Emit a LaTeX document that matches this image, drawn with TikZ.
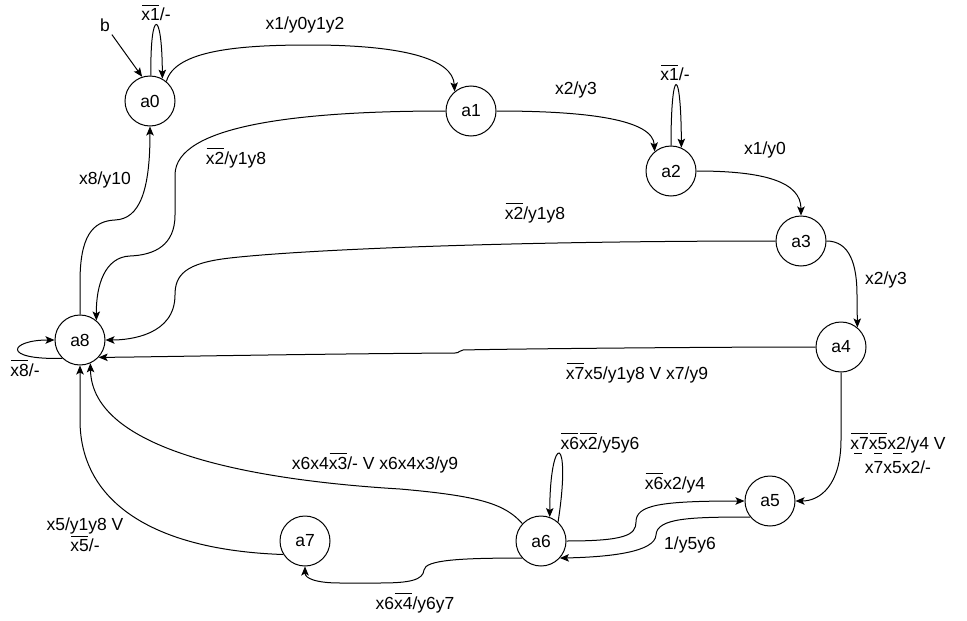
\documentclass[tikz,border=0pt]{standalone}
\usepackage{fontspec}
\setmainfont{Liberation Sans}
\usetikzlibrary{arrows.meta}
\newcommand\ovl[1]{\begingroup\setbox0=\hbox{#1}\dimen0=\wd0\dimen2=\ht0\hbox{\rlap{\kern0.7pt\vrule height\dimexpr\dimen2+4pt\relax depth\dimexpr-\dimen2-3pt\relax width\dimexpr\dimen0-1.4pt\relax}\box0}\endgroup}
\begin{document}
\begin{tikzpicture}[x=1pt,y=-1pt,
  state/.style={draw, circle, minimum size=50pt, inner sep=0pt, line width=1pt, font=\fontsize{17.5}{21}\selectfont},
  lbl/.style={inner sep=0pt, align=center, font=\fontsize{17.5}{21}\selectfont},
  edge/.style={line width=1pt, -{Stealth[length=9pt,width=7.5pt,inset=2pt]}},
  barline/.style={line width=1pt}]
\useasboundingbox (0,0) rectangle (967,621);

% states
\node[state] (a0) at (150,101) {a0};
\node[state] (a1) at (471,111) {a1};
\node[state] (a2) at (671,171) {a2};
\node[state] (a3) at (801,241) {a3};
\node[state] (a4) at (841,347) {a4};
\node[state] (a5) at (770,501) {a5};
\node[state] (a6) at (541,541) {a6};
\node[state] (a7) at (305,541) {a7};
\node[state] (a8) at (80,340) {a8};

% labels
\node[lbl, inner sep=3pt] (b) at (105,25) {b};
\node[lbl] (l00) at (156,13) {\ovl{x1}/-};
\node[lbl] (l01) at (305,25) {x1/y0y1y2};
\node[lbl] (l18) at (236,158) {\ovl{x2}/y1y8};
\node[lbl] (l80) at (105,180) {x8/y10};
\node[lbl] (l12) at (576,90) {x2/y3};
\node[lbl] (l22) at (675,73) {\ovl{x1}/-};
\node[lbl] (l23) at (765,150) {x1/y0};
\node[lbl] (l34) at (886,280) {x2/y3};
\node[lbl] (l38) at (535,213) {\ovl{x2}/y1y8};
\node[lbl] (l48) at (637,373) {\ovl{x7}x5/y1y8 V x7/y9};
\node[lbl] (l45a) at (898,443) {\ovl{x7}\ovl{x5}x2/y4 V};
\node[lbl] (l45b) at (898,467) {x7x5x2/-};
\node[lbl] (l56) at (690,545) {1/y5y6};
\node[lbl] (l65) at (675,483) {\ovl{x6}x2/y4};
\node[lbl] (l66) at (600,443) {\ovl{x6}\ovl{x2}/y5y6};
\node[lbl] (l68) at (375,463) {x6x4\ovl{x3}/- V x6x4x3/y9};
\node[lbl] (l78) at (85,535) {x5/y1y8 V\\\ovl{x5}/-};
\node[lbl] (l67) at (415,603) {x6\ovl{x4}/y6y7};
\node[lbl] (l88) at (25,368) {\ovl{x8}/-};

% bars between the two lines of the a4->a5 label
\draw[barline] (854,453.5) -- (862,453.5);
\draw[barline] (874,453.5) -- (882,453.5);
\draw[barline] (893,453.5) -- (902,453.5);

% edges
\draw[edge] (b) -- (a0.108);
\draw[edge] (a0.88) .. controls (150,8) and (162,8) .. (a0.61);
\draw[edge] (a0.50) .. controls (175,50) and (240,45) .. (310,45)
  .. controls (400,45) and (453,58) .. (a1.130);
\draw[edge] (a1.west) .. controls (300,111) and (175,125) .. (175,175) -- (175,215)
  .. controls (175,245) and (155,255) .. (130,256)
  .. controls (105,257) and (96,285) .. (a8.50);
\draw[edge] (a8.north) -- (80,282) .. controls (80,237) and (92,221) .. (115,220)
  .. controls (140,219) and (150,190) .. (a0.south);
\draw[edge] (a1.east) .. controls (590,111) and (653,120) .. (a2.130);
\draw[edge] (a2.90) .. controls (671,65) and (681,65) .. (a2.66);
\draw[edge] (a2.east) .. controls (765,171) and (801,182) .. (a3.north);
\draw[edge] (a3.east) .. controls (850,241) and (857,265) .. (857,295) -- (a4.50);
\draw[edge] (a3.west) .. controls (500,241) and (300,250) .. (230,258)
  .. controls (185,263) and (175,275) .. (175,295)
  .. controls (175,335) and (130,340) .. (a8.east);
\draw[edge] (a4.west) .. controls (700,347) and (500,349) .. (463,350)
  .. controls (459,350) and (460,353) .. (455,353)
  .. controls (300,354) and (150,357) .. (a8.-43);
\draw[edge] (a4.south) -- (841,440) .. controls (841,485) and (820,501) .. (a5.east);
\draw[edge] (a5.219) .. controls (690,517) and (657,518) .. (656,535)
  .. controls (655,552) and (610,557) .. (a6.-42);
\draw[edge] (a6.east) .. controls (625,541) and (636,535) .. (636,522)
  .. controls (636,505) and (660,501) .. (a5.west);
\draw[edge] (a6.48) .. controls (572,432) and (550,432) .. (a6.70);
\draw[edge] (a6.137) .. controls (505,504) and (480,496) .. (400,489)
  .. controls (250,480) and (92,450) .. (a8.-66);
\draw[edge] (a7.212) .. controls (150,550) and (80,500) .. (80,420) -- (a8.south);
\draw[edge] (a6.222) .. controls (460,558) and (425,560) .. (424,570)
  .. controls (423,580) and (410,583) .. (380,583) -- (340,583)
  .. controls (315,583) and (305,578) .. (a7.south);
\draw[edge] (a8.226) .. controls (0,360) and (10,340) .. (a8.west);
\end{tikzpicture}
\end{document}
